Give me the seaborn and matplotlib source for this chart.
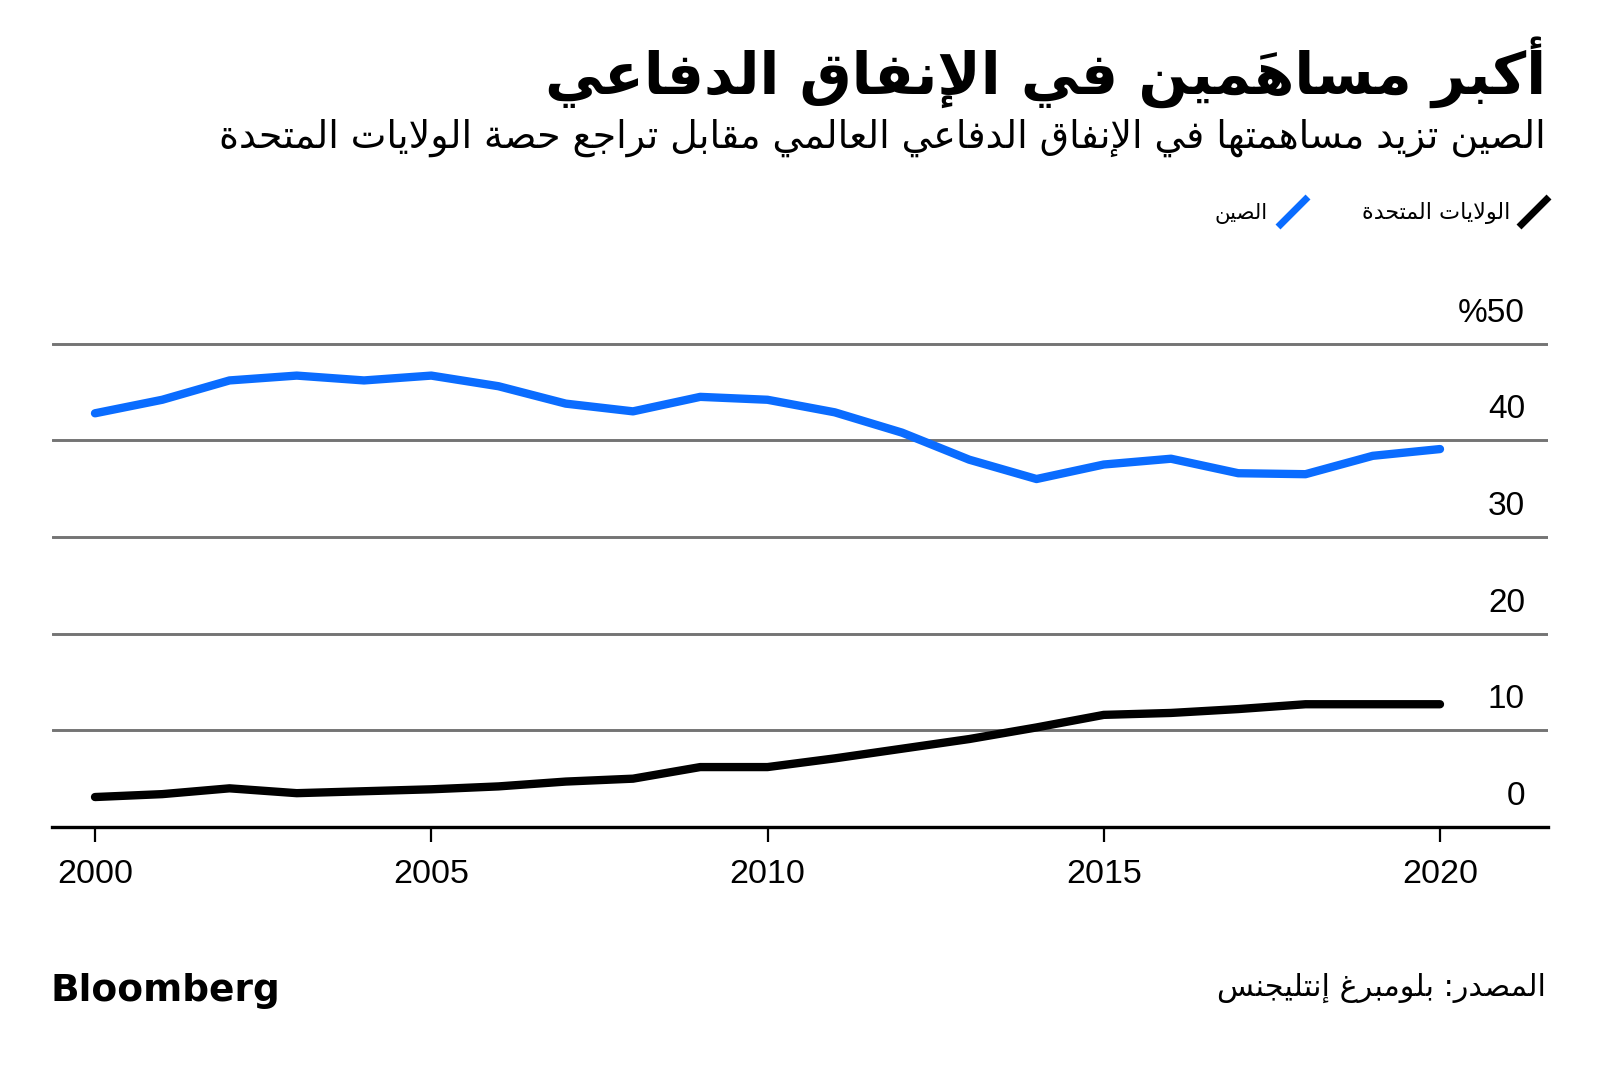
import numpy as np
import pandas as pd
import matplotlib
matplotlib.use("Agg")
import matplotlib.pyplot as plt
import matplotlib.transforms as mtransforms
from matplotlib.lines import Line2D
import seaborn as sns

# ---------------- data ----------------
years = list(range(2000, 2021))
china = [42.8, 44.2, 46.2, 46.7, 46.2, 46.7, 45.6, 43.8, 43.0, 44.5, 44.2,
         42.9, 40.8, 38.0, 36.0, 37.5, 38.1, 36.6, 36.5, 38.4, 39.1]
usa = [3.1, 3.4, 4.0, 3.5, 3.7, 3.9, 4.2, 4.7, 5.0, 6.2, 6.2,
       7.1, 8.1, 9.1, 10.3, 11.6, 11.8, 12.2, 12.7, 12.7, 12.7]
y_ticks = [0, 10, 20, 30, 40, 50]
y_tick_labels = ["0", "10", "20", "30", "40", "%50"]
x_ticks = [2000, 2005, 2010, 2015, 2020]
x_tick_labels = ["2000", "2005", "2010", "2015", "2020"]

label_china = "الصين"
label_usa = "الولايات المتحدة"
title = "أكبر مساهمَين في الإنفاق الدفاعي"
subtitle = "الصين تزيد مساهمتها في الإنفاق الدفاعي العالمي مقابل تراجع حصة الولايات المتحدة"
source = "المصدر: بلومبرغ إنتليجنس"

# ---------------- minimal Arabic shaping ----------------
_AR = {
    'ا': ('\uFE8D', '\uFE8E', None, None), 'أ': ('\uFE83', '\uFE84', None, None),
    'إ': ('\uFE87', '\uFE88', None, None), 'آ': ('\uFE81', '\uFE82', None, None),
    'ب': ('\uFE8F', '\uFE90', '\uFE91', '\uFE92'), 'ة': ('\uFE93', '\uFE94', None, None),
    'ت': ('\uFE95', '\uFE96', '\uFE97', '\uFE98'), 'ج': ('\uFE9D', '\uFE9E', '\uFE9F', '\uFEA0'),
    'ح': ('\uFEA1', '\uFEA2', '\uFEA3', '\uFEA4'), 'د': ('\uFEA9', '\uFEAA', None, None),
    'ر': ('\uFEAD', '\uFEAE', None, None), 'ز': ('\uFEAF', '\uFEB0', None, None),
    'س': ('\uFEB1', '\uFEB2', '\uFEB3', '\uFEB4'), 'ص': ('\uFEB9', '\uFEBA', '\uFEBB', '\uFEBC'),
    'ع': ('\uFEC9', '\uFECA', '\uFECB', '\uFECC'), 'غ': ('\uFECD', '\uFECE', '\uFECF', '\uFED0'),
    'ف': ('\uFED1', '\uFED2', '\uFED3', '\uFED4'), 'ق': ('\uFED5', '\uFED6', '\uFED7', '\uFED8'),
    'ك': ('\uFED9', '\uFEDA', '\uFEDB', '\uFEDC'), 'ل': ('\uFEDD', '\uFEDE', '\uFEDF', '\uFEE0'),
    'م': ('\uFEE1', '\uFEE2', '\uFEE3', '\uFEE4'), 'ن': ('\uFEE5', '\uFEE6', '\uFEE7', '\uFEE8'),
    'ه': ('\uFEE9', '\uFEEA', '\uFEEB', '\uFEEC'), 'و': ('\uFEED', '\uFEEE', None, None),
    'ي': ('\uFEF1', '\uFEF2', '\uFEF3', '\uFEF4'),
}
_LAMALEF = {'ا': ('\uFEFB', '\uFEFC'), 'أ': ('\uFEF7', '\uFEF8'),
            'إ': ('\uFEF9', '\uFEFA'), 'آ': ('\uFEF5', '\uFEF6')}
_MARKS = set('\u064B\u064C\u064D\u064E\u064F\u0650\u0651\u0652')


def shape_ar(text):
    clusters = []
    for ch in text:
        if ch in _MARKS and clusters:
            clusters[-1][1].append(ch)
        else:
            clusters.append([ch, []])
    merged = []
    i = 0
    while i < len(clusters):
        b, m = clusters[i]
        if b == 'ل' and i + 1 < len(clusters) and clusters[i + 1][0] in _LAMALEF:
            merged.append(['LA' + clusters[i + 1][0], m + clusters[i + 1][1]])
            i += 2
        else:
            merged.append([b, m])
            i += 1

    def is_ar(b):
        return b in _AR or (len(b) == 3 and b.startswith('LA'))

    def dual(b):
        return b in _AR and _AR[b][2] is not None

    out = []
    for i, (b, m) in enumerate(merged):
        if not is_ar(b):
            out.append(b + ''.join(m))
            continue
        prev = merged[i - 1][0] if i > 0 else None
        nxt = merged[i + 1][0] if i + 1 < len(merged) else None
        jp = prev is not None and dual(prev)
        jn = dual(b) and nxt is not None and is_ar(nxt)
        if len(b) == 3 and b.startswith('LA'):
            g = _LAMALEF[b[2]][1 if jp else 0]
        else:
            f = _AR[b]
            if jp and jn:
                g = f[3]
            elif jp:
                g = f[1]
            elif jn:
                g = f[2]
            else:
                g = f[0]
        out.append(g + ''.join(m))
    return ''.join(reversed(out))


# ---------------- figure ----------------
sns.set_style("white")
plt.rcParams['font.family'] = ['Liberation Sans', 'DejaVu Sans']

W, H = 1600, 1066
fig = plt.figure(figsize=(W / 100, H / 100), dpi=100)
fig.patch.set_facecolor("white")

px_per_unit = 9.666
y0_px = 827
ytop = 52
ax = fig.add_axes([52 / W, (H - y0_px) / H, 1496 / W, ytop * px_per_unit / H])

df = pd.DataFrame({
    "year": years * 2,
    "value": china + usa,
    "series": [label_china] * len(years) + [label_usa] * len(years),
})
palette = {label_china: "#0a6cff", label_usa: "#000000"}
sns.lineplot(data=df, x="year", y="value", hue="series", palette=palette,
             linewidth=6.0, legend=False, ax=ax, solid_capstyle="round",
             solid_joinstyle="round", zorder=3)

ax.set_xlim(2000 - 43 / 67.25, 2020 + 108 / 67.25)
ax.set_ylim(0, ytop)
ax.set_xlabel("")
ax.set_ylabel("")

ax.set_yticks(y_ticks)
ax.yaxis.grid(True, color="#747474", linewidth=2.1)
ax.xaxis.grid(False)
ax.set_axisbelow(True)
ax.tick_params(axis="y", length=0, labelleft=False, labelright=False)

ax.set_xticks(x_ticks)
ax.set_xticklabels(x_tick_labels)
ax.tick_params(axis="x", direction="out", length=10.8, width=1.6, color="black",
               pad=12, labelsize=24.5, labelcolor="black", bottom=True)

for s in ["left", "right", "top"]:
    ax.spines[s].set_visible(False)
ax.spines["bottom"].set_color("black")
ax.spines["bottom"].set_linewidth(2.4)
ax.spines["bottom"].set_zorder(4)

# y tick labels sitting above gridlines on the right
trans = mtransforms.offset_copy(
    mtransforms.blended_transform_factory(ax.transAxes, ax.transData),
    fig=fig, x=0, y=22, units="dots")
xr = (1525 - 52) / 1496
for v, lab in zip(y_ticks, y_tick_labels):
    ax.text(xr, v, lab, transform=trans, ha="right", va="baseline",
            fontsize=24, color="black")

# ---------------- header / legend / footer ----------------
fig.canvas.draw()
renderer = fig.canvas.get_renderer()


def fit(t, width_px):
    w = t.get_window_extent(renderer).width
    t.set_fontsize(t.get_fontsize() * width_px / w)


ar_font = ["DejaVu Sans"]
t_title = fig.text(1546 / W, 1 - 94 / H, shape_ar(title), ha="right", va="baseline",
                   fontsize=40, fontweight="bold", family=ar_font, color="black")
fit(t_title, 1000)
t_sub = fig.text(1546 / W, 1 - 148 / H, shape_ar(subtitle), ha="right", va="baseline",
                 fontsize=20, family=ar_font, color="black")
fit(t_sub, 1330)

t_leg1 = fig.text(1510 / W, 1 - 219 / H, shape_ar(label_usa), ha="right", va="baseline",
                  fontsize=14, family=ar_font, color="black")
fit(t_leg1, 150)
t_leg2 = fig.text(1268 / W, 1 - 219 / H, shape_ar(label_china), ha="right", va="baseline",
                  fontsize=14, family=ar_font, color="black")
fit(t_leg2, 54)

fig.add_artist(Line2D([1519 / W, 1549 / W], [1 - 227 / H, 1 - 197 / H],
                      transform=fig.transFigure, color="black", linewidth=5,
                      solid_capstyle="butt"))
fig.add_artist(Line2D([1278 / W, 1308 / W], [1 - 227 / H, 1 - 197 / H],
                      transform=fig.transFigure, color="#0a6cff", linewidth=5,
                      solid_capstyle="butt"))

t_src = fig.text(1546 / W, 1 - 996 / H, shape_ar(source), ha="right", va="baseline",
                 fontsize=18, family=ar_font, color="black")
fit(t_src, 327)

fig.text(50 / W, 1 - 1001 / H, "Bloomberg", ha="left", va="baseline",
         fontsize=27, fontweight="bold", family=["DejaVu Sans"], color="black")

fig.savefig("out.png", dpi=100, facecolor="white")
